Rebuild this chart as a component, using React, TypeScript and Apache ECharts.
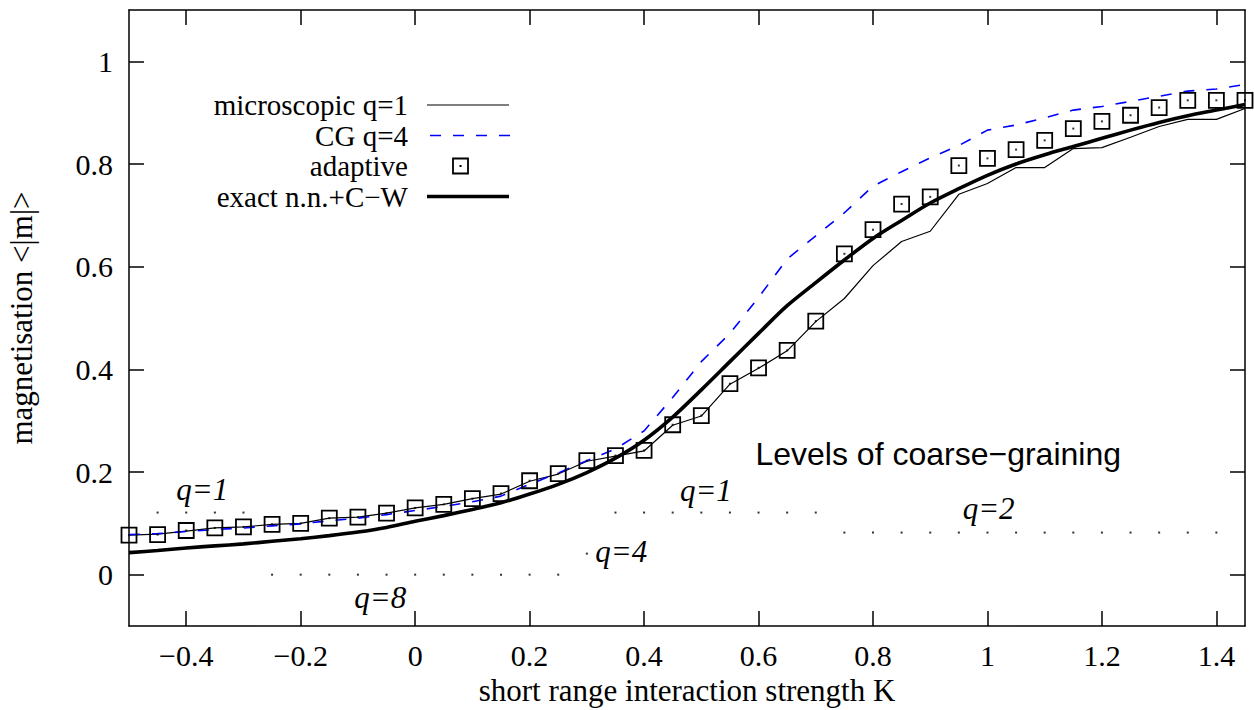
import React, { useEffect, useRef } from "react";
import * as echarts from "echarts";

// short range interaction strength K (sampling grid of all series)
const K = [
  -0.5, -0.45, -0.4, -0.35, -0.3, -0.25, -0.2, -0.15, -0.1, -0.05,
  0, 0.05, 0.1, 0.15, 0.2, 0.25, 0.3, 0.35, 0.4, 0.45,
  0.5, 0.55, 0.6, 0.65, 0.7, 0.75, 0.8, 0.85, 0.9, 0.95,
  1.0, 1.05, 1.1, 1.15, 1.2, 1.25, 1.3, 1.35, 1.4, 1.45,
];

// microscopic q=1
const microscopic = [
  0.077, 0.079, 0.085, 0.091, 0.093, 0.098, 0.1, 0.11, 0.112, 0.12,
  0.13, 0.137, 0.148, 0.157, 0.182, 0.196, 0.221, 0.231, 0.241, 0.291,
  0.309, 0.371, 0.402, 0.436, 0.493, 0.538, 0.602, 0.649, 0.669, 0.741,
  0.762, 0.793, 0.793, 0.83, 0.832, 0.852, 0.873, 0.887, 0.887, 0.908,
];

// CG q=4
const cgQ4 = [
  0.078, 0.08, 0.084, 0.088, 0.091, 0.095, 0.099, 0.105, 0.11, 0.117,
  0.125, 0.133, 0.142, 0.153, 0.176, 0.198, 0.222, 0.245, 0.28, 0.345,
  0.415, 0.47, 0.54, 0.615, 0.66, 0.705, 0.757, 0.785, 0.812, 0.836,
  0.866, 0.876, 0.89, 0.905, 0.912, 0.922, 0.932, 0.942, 0.946, 0.955,
];

// adaptive
const adaptive = [
  0.077, 0.078, 0.086, 0.091, 0.093, 0.098, 0.1, 0.11, 0.112, 0.12,
  0.13, 0.137, 0.148, 0.158, 0.183, 0.197, 0.222, 0.232, 0.242, 0.292,
  0.31, 0.372, 0.403, 0.437, 0.494, 0.625, 0.672, 0.722, 0.736, 0.797,
  0.811, 0.828, 0.846, 0.869, 0.883, 0.895, 0.91, 0.924, 0.924, 0.924,
];

// exact n.n.+C-W
const exact = [
  0.043, 0.047, 0.052, 0.056, 0.06, 0.065, 0.07, 0.076, 0.083, 0.092,
  0.104, 0.115, 0.127, 0.14, 0.157, 0.176, 0.199, 0.227, 0.262, 0.307,
  0.36, 0.415, 0.47, 0.524, 0.569, 0.613, 0.655, 0.69, 0.724, 0.752,
  0.778, 0.8, 0.818, 0.834, 0.85, 0.866, 0.881, 0.894, 0.905, 0.916,
];

// levels of coarse-graining (dotted markers)
const levelQ1LowK = [-0.45, -0.4, -0.35, -0.3];
const levelQ1LowM = 0.121;
const levelQ8K = [-0.25, -0.2, -0.15, -0.1, -0.05, 0, 0.05, 0.1, 0.15, 0.2, 0.25];
const levelQ8M = 0;
const levelQ4K = [0.3];
const levelQ4M = 0.041;
const levelQ1MidK = [0.35, 0.4, 0.45, 0.5, 0.55, 0.6, 0.65, 0.7];
const levelQ1MidM = 0.121;
const levelQ2K = [0.75, 0.8, 0.85, 0.9, 0.95, 1.0, 1.05, 1.1, 1.15, 1.2, 1.25, 1.3, 1.35, 1.4];
const levelQ2M = 0.082;

const xTicks = [-0.4, -0.2, 0, 0.2, 0.4, 0.6, 0.8, 1, 1.2, 1.4];
const yTicks = [0, 0.2, 0.4, 0.6, 0.8, 1];

const legendNames = ["microscopic q=1", "CG q=4", "adaptive", "exact n.n.+C\u2212W"];

const levelLabels = ["q=1", "q=8", "q=4", "q=1", "q=2"];
const levelLabelK = [-0.372, -0.061, 0.36, 0.508, 1.002];
const levelLabelM = [0.166, -0.045, 0.045, 0.164, 0.129];
const titleNote = "Levels of coarse\u2212graining";

const SERIF = "'Liberation Serif', 'Times New Roman', serif";
const SANS = "'Liberation Sans', Arial, sans-serif";

function fmt(v: number) {
  const r = parseFloat(v.toFixed(2));
  if (r < 0) return "\u2212" + String(Math.abs(r));
  return String(r);
}

export default function App() {
  const ref = useRef<HTMLDivElement>(null);
  useEffect(() => {
    if (!ref.current) return;
    const chart = echarts.init(ref.current, null, { renderer: "svg" });
    const pts = (vals: number[]) => K.map((k, i) => [k, vals[i]]);
    const lvl = (ks: number[], m: number) => ks.map((k) => [k, m]);
    const axisLine = { show: true, onZero: false, lineStyle: { color: "#000", width: 1.5 } };
    const tickStyle = { color: "#000", width: 1.5 };

    chart.setOption({
      animation: false,
      backgroundColor: "#fff",
      grid: { left: 129, right: 9, top: 10, bottom: 84, containLabel: false, outerBoundsMode: "none" },
      xAxis: [
        {
          type: "value",
          min: -0.5,
          max: 1.45,
          position: "bottom",
          axisLine,
          axisTick: { show: true, inside: true, length: 15, customValues: xTicks, lineStyle: tickStyle },
          axisLabel: {
            show: true,
            customValues: xTicks,
            formatter: (v: number) => fmt(v),
            margin: 14,
            color: "#000",
            fontFamily: SERIF,
            fontSize: 30,
          },
          splitLine: { show: false },
          name: "short range interaction strength K",
          nameLocation: "middle",
          nameGap: 46,
          nameTextStyle: { color: "#000", fontFamily: SERIF, fontSize: 31 },
        },
        {
          type: "value",
          min: -0.5,
          max: 1.45,
          position: "top",
          axisLine,
          axisTick: { show: true, inside: true, length: 15, customValues: xTicks, lineStyle: tickStyle },
          axisLabel: { show: false },
          splitLine: { show: false },
        },
      ],
      yAxis: [
        {
          type: "value",
          min: -0.1,
          max: 1.1,
          position: "left",
          axisLine,
          axisTick: { show: true, inside: true, length: 15, customValues: yTicks, lineStyle: tickStyle },
          axisLabel: {
            show: true,
            customValues: yTicks,
            formatter: (v: number) => fmt(v),
            margin: 16,
            color: "#000",
            fontFamily: SERIF,
            fontSize: 30,
          },
          splitLine: { show: false },
          name: "magnetisation <|m|>",
          nameLocation: "middle",
          nameGap: 92,
          nameTextStyle: { color: "#000", fontFamily: SERIF, fontSize: 31 },
        },
        {
          type: "value",
          min: -0.1,
          max: 1.1,
          position: "right",
          axisLine,
          axisTick: { show: true, inside: true, length: 15, customValues: yTicks, lineStyle: tickStyle },
          axisLabel: { show: false },
          splitLine: { show: false },
        },
      ],
      series: [
        {
          name: legendNames[0],
          type: "line",
          data: pts(microscopic),
          symbol: "none",
          silent: true,
          lineStyle: { color: "#000", width: 1.2 },
          z: 2,
        },
        {
          name: legendNames[1],
          type: "line",
          data: pts(cgQ4),
          symbol: "none",
          silent: true,
          lineStyle: { color: "#0000ff", width: 1.6, type: [11, 12] },
          z: 3,
        },
        {
          name: legendNames[2],
          type: "scatter",
          data: pts(adaptive),
          symbol: "rect",
          symbolSize: 15,
          clip: false,
          silent: true,
          itemStyle: { color: "rgba(0,0,0,0)", borderColor: "#000", borderWidth: 1.8, opacity: 1 },
          z: 4,
        },
        {
          name: "adaptive centre",
          type: "scatter",
          data: pts(adaptive),
          symbol: "rect",
          symbolSize: 2,
          clip: false,
          silent: true,
          itemStyle: { color: "#000" },
          z: 4,
        },
        {
          name: legendNames[3],
          type: "line",
          data: pts(exact),
          symbol: "none",
          smooth: 0.3,
          silent: true,
          lineStyle: { color: "#000", width: 3.6 },
          z: 5,
        },
        {
          name: "levels",
          type: "scatter",
          data: [
            ...lvl(levelQ1LowK, levelQ1LowM),
            ...lvl(levelQ8K, levelQ8M),
            ...lvl(levelQ4K, levelQ4M),
            ...lvl(levelQ1MidK, levelQ1MidM),
            ...lvl(levelQ2K, levelQ2M),
          ],
          symbol: "rect",
          symbolSize: 2,
          silent: true,
          itemStyle: { color: "#000" },
          z: 2,
        },
      ],
    });

    // legend (gnuplot style: text right-aligned, sample on the right)
    const legX = 408;
    const sampleX1 = 427;
    const sampleX2 = 509;
    const rowY = [105, 135.5, 166, 196.5];
    const legend: any[] = [];
    legendNames.forEach((name, i) => {
      legend.push({
        type: "text",
        x: legX,
        y: rowY[i],
        style: {
          text: name,
          fill: "#000",
          font: `29px ${SERIF}`,
          lineHeight: 26,
          textAlign: "right",
          textVerticalAlign: "middle",
        },
      });
    });
    legend.push({ type: "line", shape: { x1: sampleX1, y1: rowY[0], x2: sampleX2, y2: rowY[0] }, style: { stroke: "#000", lineWidth: 1.2 } });
    legend.push({ type: "line", shape: { x1: sampleX1 + 3, y1: rowY[1], x2: sampleX2 + 3, y2: rowY[1] }, style: { stroke: "#0000ff", lineWidth: 1.6, lineDash: [11, 12] } });
    legend.push({ type: "rect", shape: { x: 460.5 - 7.5, y: rowY[2] - 7.5, width: 15, height: 15 }, style: { stroke: "#000", fill: "none", lineWidth: 1.8 } });
    legend.push({ type: "rect", shape: { x: 459.5, y: rowY[2] - 1, width: 2, height: 2 }, style: { fill: "#000" } });
    legend.push({ type: "line", shape: { x1: sampleX1, y1: rowY[3], x2: sampleX2, y2: rowY[3] }, style: { stroke: "#000", lineWidth: 3.6 } });

    // level annotations placed in data coordinates
    const notes: any[] = levelLabels.map((t, i) => {
      const p = chart.convertToPixel({ gridIndex: 0 }, [levelLabelK[i], levelLabelM[i]]) as number[];
      return {
        type: "text",
        x: p[0],
        y: p[1],
        style: { text: t, fill: "#000", font: `italic 31px ${SERIF}`, textAlign: "center", textVerticalAlign: "middle" },
      };
    });
    const tp = chart.convertToPixel({ gridIndex: 0 }, [0.914, 0.236]) as number[];
    notes.push({
      type: "text",
      x: tp[0],
      y: tp[1],
      style: { text: titleNote, fill: "#000", font: `32px ${SANS}`, textAlign: "center", textVerticalAlign: "middle" },
    });

    chart.setOption({ graphic: [...legend, ...notes] });

    return () => chart.dispose();
  }, []);

  return (
    <div
      ref={ref}
      style={{ position: "fixed", left: 0, top: 0, width: 1254, height: 710, background: "#fff" }}
    />
  );
}
